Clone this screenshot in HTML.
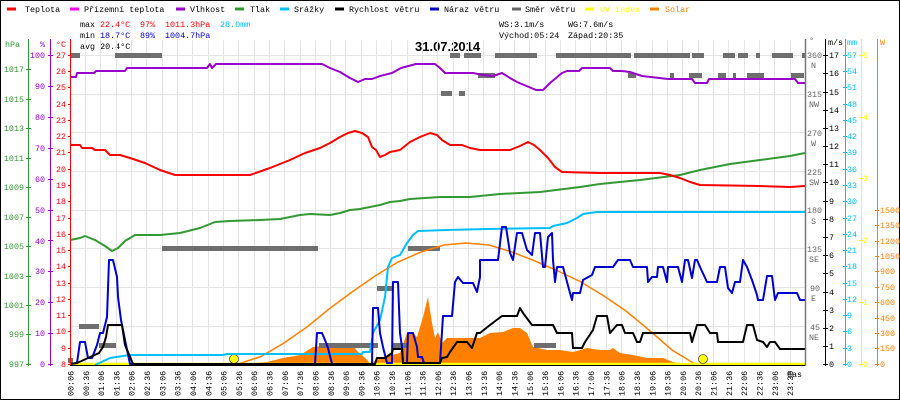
<!DOCTYPE html>
<html><head><meta charset="utf-8"><style>
html,body{margin:0;padding:0;background:#fff}
svg{display:block}
text{font-family:"Liberation Mono",monospace;font-size:8.4px}
</style></head><body>
<svg width="900" height="400" viewBox="0 0 900 400" xmlns="http://www.w3.org/2000/svg">
<rect x="0.5" y="0.5" width="899" height="399" fill="#fff" stroke="#000"/>
<!-- legend -->
<g stroke-width="3">
<line x1="7" y1="9" x2="16" y2="9" stroke="#f00"/>
<line x1="70" y1="9" x2="79" y2="9" stroke="#f0f"/>
<line x1="176" y1="9" x2="185" y2="9" stroke="#9900cc"/>
<line x1="235" y1="9" x2="244" y2="9" stroke="#339933"/>
<line x1="280" y1="9" x2="289" y2="9" stroke="#00bfff"/>
<line x1="335" y1="9" x2="344" y2="9" stroke="#000"/>
<line x1="430" y1="9" x2="439" y2="9" stroke="#0000cc"/>
<line x1="512" y1="9" x2="521" y2="9" stroke="#666"/>
<line x1="585" y1="9" x2="594" y2="9" stroke="#ff0"/>
<line x1="650" y1="9" x2="659" y2="9" stroke="#ff8000"/>
</g>
<g>
<text x="25" y="12">Teplota</text>
<text x="84" y="12">Přízemní teplota</text>
<text x="190" y="12">Vlhkost</text>
<text x="250" y="12">Tlak</text>
<text x="294" y="12">Srážky</text>
<text x="349" y="12">Rychlost větru</text>
<text x="444" y="12">Náraz větru</text>
<text x="525" y="12">Směr větru</text>
<text x="600" y="12" fill="#ff0">UV index</text>
<text x="665" y="12" fill="#ff8000">Solar</text>
</g>
<!-- stats -->
<text x="80" y="27">max</text><text x="100" y="27" fill="#f00">22.4°C</text><text x="140" y="27" fill="#f00">97%</text><text x="165" y="27" fill="#f00">1011.3hPa</text><text x="220" y="27" fill="#00bfff">28.0mm</text>
<text x="80" y="38">min</text><text x="100" y="38" fill="#0000cc">18.7°C</text><text x="140" y="38" fill="#0000cc">89%</text><text x="165" y="38" fill="#0000cc">1004.7hPa</text>
<text x="80" y="49">avg 20.4°C</text>
<text x="499" y="27">WS:3.1m/s</text><text x="568" y="27">WG:7.6m/s</text>
<text x="499" y="38">Východ:05:24</text><text x="568" y="38">Západ:20:35</text>
<text x="415" y="51" style="font-family:'Liberation Sans',sans-serif;font-size:13px;font-weight:bold">31.07.2014</text>
<!-- grid -->
<g stroke="#e4e4e4" stroke-width="1" id="grid"></g>
<g stroke="#e4e4e4" stroke-width="1">
<line x1="70" y1="55.5" x2="805" y2="55.5"/><line x1="70" y1="94.5" x2="805" y2="94.5"/><line x1="70" y1="132.5" x2="805" y2="132.5"/><line x1="70" y1="171.5" x2="805" y2="171.5"/><line x1="70" y1="210.5" x2="805" y2="210.5"/><line x1="70" y1="248.5" x2="805" y2="248.5"/><line x1="70" y1="287.5" x2="805" y2="287.5"/><line x1="70" y1="326.5" x2="805" y2="326.5"/>
<path d="M85.5 40V364M100.5 40V364M116.5 40V364M131.5 40V364M146.5 40V364M162.5 40V364M177.5 40V364M192.5 40V364M208.5 40V364M223.5 40V364M238.5 40V364M254.5 40V364M269.5 40V364M284.5 40V364M300.5 40V364M315.5 40V364M330.5 40V364M345.5 40V364M361.5 40V364M376.5 40V364M391.5 40V364M407.5 40V364M422.5 40V364M437.5 40V364M453.5 40V364M468.5 40V364M483.5 40V364M499.5 40V364M514.5 40V364M529.5 40V364M545.5 40V364M560.5 40V364M575.5 40V364M590.5 40V364M606.5 40V364M621.5 40V364M636.5 40V364M652.5 40V364M667.5 40V364M682.5 40V364M698.5 40V364M713.5 40V364M728.5 40V364M744.5 40V364M759.5 40V364M774.5 40V364M790.5 40V364"/>
</g>
<!-- solar area -->
<polygon fill="#ff8000" points="240,364 267,362 283,358 300,355 313,347 330,345 353,346 358,352 362,355 370,363 377,360 383,357 392,355 400,353 407,333 413,333 417,337 423,317 428,297 432,323 435,338 438,332 442,343 447,338 480,338 490,333 503,332 513,328 520,328 527,333 533,347 547,350 560,350 573,352 587,348 600,350 610,350 613,348 620,353 633,355 647,358 663,358 673,362 677,363 700,364"/>
<!-- direction bars -->
<g fill="#6e6e6e">
<rect x="71" y="53" width="9" height="5"/><rect x="115" y="53" width="47" height="5"/><rect x="450" y="53" width="10" height="5"/><rect x="464" y="53" width="17" height="5"/><rect x="495" y="53" width="42" height="5"/><rect x="556" y="53" width="75" height="5"/><rect x="634" y="53" width="56" height="5"/><rect x="692" y="53" width="12" height="5"/><rect x="723" y="53" width="12" height="5"/><rect x="738" y="53" width="10" height="5"/><rect x="756" y="53" width="4" height="5"/><rect x="772" y="53" width="21" height="5"/><rect x="802" y="53" width="4" height="5"/>
<rect x="478" y="73" width="17" height="5"/><rect x="628" y="73" width="8" height="5"/><rect x="670" y="73" width="4" height="5"/><rect x="689" y="73" width="13" height="5"/><rect x="718" y="73" width="8" height="5"/><rect x="733" y="73" width="3" height="5"/><rect x="747" y="73" width="17" height="5"/><rect x="791" y="73" width="13" height="5"/>
<rect x="441" y="91" width="11" height="5"/><rect x="459" y="91" width="6" height="5"/>
<rect x="79" y="324" width="20" height="5"/><rect x="99" y="343" width="17" height="5"/><rect x="68" y="358" width="5" height="5"/>
<rect x="162" y="246" width="156" height="5"/><rect x="319" y="343" width="59" height="5"/><rect x="377" y="286" width="16" height="5"/><rect x="392" y="343" width="16" height="5"/><rect x="408" y="246" width="32" height="5"/><rect x="534" y="343" width="22" height="5"/>
</g>
<!-- orange theoretical line -->
<polyline fill="none" stroke="#ff8000" stroke-width="1.5" points="238,364 261,356.5 284,343 307,327 329,309 352,292 375,276 398,262 421,252 444,245 466,243 489,245 512,252 535,261 558,271 581,282 604,296 626,311 649,330 672,350 695,364"/>
<!-- UV baseline -->
<line x1="70" y1="364" x2="805" y2="364" stroke="#ff0" stroke-width="2.5"/>
<circle cx="234" cy="359" r="4.5" fill="#ff0" stroke="#555" stroke-width="0.8"/>
<circle cx="703" cy="359" r="4.5" fill="#ff0" stroke="#555" stroke-width="0.8"/>
<g fill="none" stroke-width="2" stroke-linejoin="round">
<!-- rain -->
<polyline stroke="#00bfff" points="95,365 110,358 130,355 223,355 227,354 362,354 363,352 370,352 373,333 380,320 385,297 388,267 392,258 400,255 407,243 413,235 418,231 447,230 487,229 550,228 553,226 567,223 577,218 583,214 597,212 805,212"/>
<!-- pressure -->
<polyline stroke="#339933" points="70,240 80,238 85,236 95,240 105,246 112,251 118,248 125,241 135,235 160,235 180,233 200,228 215,222 230,221 260,220 280,219 300,215 310,214 330,215 340,213 350,210 360,209 370,207 380,205 390,202 400,201 410,199 440,197 470,197 500,194 540,192 580,187 600,184 640,180 680,175 700,170 730,164 760,160 790,156 805,153"/>
<!-- humidity -->
<polyline stroke="#9900cc" points="70,77 76,77 77,73 94,73 96,71 125,71 127,68 207,68 210,64 212,68 216,64 322,64 330,68 340,72 350,78 358,82 365,79 372,79 380,76 392,73 401,68 416,64 435,64 440,68 445,73 473,73 483,75 493,76 502,73 510,78 517,82 529,87 536,90 543,90 550,83 562,73 567,71 579,71 582,68 610,68 613,71 622,71 630,72 642,76 668,79 692,79 695,83 707,83 709,79 795,79 798,83 805,83"/>
<!-- temperature -->
<polyline stroke="#f00" points="70,145 80,145 82,148 92,148 95,150 105,150 107,152 110,155 120,155 130,158 145,163 160,170 175,175 250,175 270,168 290,160 305,153 320,148 330,143 340,137 348,133 355,131 362,133 368,137 372,147 376,150 380,157 385,155 390,152 400,150 410,142 420,137 430,133 437,135 442,140 450,145 462,145 470,148 480,150 510,150 520,146 528,142 534,145 540,150 548,158 555,167 562,172 600,173 660,173 670,175 680,178 690,182 700,185 760,186 790,187 805,186"/>
<!-- gust -->
<polyline stroke="#0000cc" points="70,364 77,363 80,342 85,342 88,358 92,358 97,345 100,333 103,333 107,317 109,260 113,260 117,277 118,297 121,320 125,340 130,364 315,364 317,333 322,333 325,340 328,348 332,364 372,364 373,308 378,308 380,333 383,347 387,363 392,363 393,282 398,282 400,333 402,347 403,363 407,363 408,333 413,333 417,347 418,357 422,357 424,363 440,363 443,316 452,316 455,282 458,277 463,283 473,283 477,292 480,277 480,260 498,260 502,227 506,227 510,253 513,260 517,233 522,233 527,250 532,255 535,233 540,233 543,267 545,267 548,237 552,233 553,260 555,282 557,267 563,267 570,293 572,300 573,293 580,293 583,280 592,275 595,267 613,267 618,260 630,260 633,267 647,267 648,282 652,277 657,277 658,267 663,267 667,282 668,267 678,267 682,282 685,260 688,260 692,278 695,260 697,260 700,267 707,282 717,282 720,267 725,267 728,288 732,293 735,282 740,282 743,260 747,267 752,280 757,295 758,300 763,300 767,276 772,276 775,300 778,293 797,293 800,300 805,300"/>
<!-- wind speed -->
<polyline stroke="#000" points="70,364 77,363 99,353 103,347 106,337 108,325 122,325 125,345 133,364 375,364 377,358 385,358 392,353 393,349 402,349 403,363 440,363 442,358 447,357 450,352 457,342 467,342 472,348 477,333 480,333 490,325 502,316 517,316 520,308 523,313 532,325 553,325 557,333 572,333 573,348 582,348 585,342 593,330 597,316 607,316 610,333 617,325 622,325 625,333 633,333 637,342 640,342 643,333 690,333 692,342 697,325 705,325 710,333 717,333 718,342 743,342 747,325 753,325 757,340 763,342 767,347 770,342 775,342 780,349 805,349"/>
</g>
<!-- left axes -->
<g fill="#339933" text-anchor="end">
<line x1="28.5" y1="39" x2="28.5" y2="366" stroke="#339933"/>
<text x="5" y="47" text-anchor="start">hPa</text>
<text x="24" y="72">1017</text><text x="24" y="102">1015</text><text x="24" y="131">1013</text><text x="24" y="161">1011</text><text x="24" y="190">1009</text><text x="24" y="220">1007</text><text x="24" y="249">1005</text><text x="24" y="279">1003</text><text x="24" y="308">1001</text><text x="24" y="337">999</text><text x="24" y="367">997</text>
<path stroke="#339933" d="M26 69.5h5M26 99.5h5M26 128.5h5M26 158.5h5M26 187.5h5M26 217.5h5M26 246.5h5M26 276.5h5M26 305.5h5M26 334.5h5M26 364.5h5"/>
</g>
<g fill="#9900cc" text-anchor="end">
<line x1="50.5" y1="39" x2="50.5" y2="366" stroke="#9900cc"/>
<text x="45" y="47">%</text>
<text x="45" y="58">100</text><text x="45" y="89">90</text><text x="45" y="120">80</text><text x="45" y="151">70</text><text x="45" y="182">60</text><text x="45" y="213">50</text><text x="45" y="244">40</text><text x="45" y="274">30</text><text x="45" y="305">20</text><text x="45" y="336">10</text><text x="45" y="367">0</text>
<path stroke="#9900cc" d="M48 55.5h5M48 86.5h5M48 117.5h5M48 148.5h5M48 179.5h5M48 210.5h5M48 240.5h5M48 271.5h5M48 302.5h5M48 333.5h5M48 364.5h5"/>
</g>
<g fill="#f00" text-anchor="end">
<line x1="70.5" y1="39" x2="70.5" y2="366" stroke="#f00"/>
<text x="66" y="47">°C</text>
<text x="66" y="58">27</text><text x="66" y="74">26</text><text x="66" y="90">25</text><text x="66" y="107">24</text><text x="66" y="123">23</text><text x="66" y="139">22</text><text x="66" y="155">21</text><text x="66" y="172">20</text><text x="66" y="188">19</text><text x="66" y="204">18</text><text x="66" y="221">17</text><text x="66" y="237">16</text><text x="66" y="253">15</text><text x="66" y="269">14</text><text x="66" y="286">13</text><text x="66" y="302">12</text><text x="66" y="318">11</text><text x="66" y="334">10</text><text x="66" y="351">9</text><text x="66" y="367">8</text>
<path stroke="#f00" d="M68 55.5h3M68 71.5h3M68 87.5h3M68 104.5h3M68 120.5h3M68 136.5h3M68 152.5h3M68 169.5h3M68 185.5h3M68 201.5h3M68 218.5h3M68 234.5h3M68 250.5h3M68 266.5h3M68 283.5h3M68 299.5h3M68 315.5h3M68 331.5h3M68 348.5h3M68 364.5h3"/>
</g>
<!-- right axes -->
<g fill="#666">
<line x1="805.5" y1="39" x2="805.5" y2="366" stroke="#777" stroke-width="1.5"/>
<text x="809" y="43">°</text>
<text x="807" y="58">360</text><text x="811" y="68">N</text>
<text x="807" y="97">315</text><text x="809" y="107">NW</text>
<text x="807" y="136">270</text><text x="811" y="146">W</text>
<text x="807" y="175">225</text><text x="809" y="185">SW</text>
<text x="807" y="213">180</text><text x="811" y="224">S</text>
<text x="807" y="252">135</text><text x="809" y="262">SE</text>
<text x="810" y="291">90</text><text x="811" y="301">E</text>
<text x="810" y="330">45</text><text x="809" y="340">NE</text>
</g>
<g fill="#000">
<line x1="825.5" y1="39" x2="825.5" y2="366" stroke="#000"/>
<text x="828" y="45">m/s</text>
<text x="829" y="58">17</text><text x="829" y="76">16</text><text x="829" y="95">15</text><text x="829" y="113">14</text><text x="829" y="131">13</text><text x="829" y="149">12</text><text x="829" y="167">11</text><text x="829" y="185">10</text><text x="829" y="204">9</text><text x="829" y="222">8</text><text x="829" y="240">7</text><text x="829" y="258">6</text><text x="829" y="276">5</text><text x="829" y="295">4</text><text x="829" y="313">3</text><text x="829" y="331">2</text><text x="829" y="349">1</text><text x="829" y="367">0</text>
<path stroke="#000" d="M823 55.5h5M823 73.5h5M823 92.5h5M823 110.5h5M823 128.5h5M823 146.5h5M823 164.5h5M823 182.5h5M823 201.5h5M823 219.5h5M823 237.5h5M823 255.5h5M823 273.5h5M823 292.5h5M823 310.5h5M823 328.5h5M823 346.5h5M823 364.5h5"/>
</g>
<g fill="#00bfff">
<line x1="845.5" y1="39" x2="845.5" y2="366" stroke="#00bfff"/>
<text x="847" y="45">mm</text>
<text x="847" y="58">57</text><text x="847" y="74">54</text><text x="847" y="90">51</text><text x="847" y="107">48</text><text x="847" y="123">45</text><text x="847" y="139">42</text><text x="847" y="155">39</text><text x="847" y="172">36</text><text x="847" y="188">33</text><text x="847" y="204">30</text><text x="847" y="221">27</text><text x="847" y="237">24</text><text x="847" y="253">21</text><text x="847" y="269">18</text><text x="847" y="286">15</text><text x="847" y="302">12</text><text x="847" y="318">9</text><text x="847" y="334">6</text><text x="847" y="351">3</text><text x="847" y="367">0</text>
<path stroke="#00bfff" d="M843 55.5h4M843 71.5h4M843 87.5h4M843 104.5h4M843 120.5h4M843 136.5h4M843 152.5h4M843 169.5h4M843 185.5h4M843 201.5h4M843 218.5h4M843 234.5h4M843 250.5h4M843 266.5h4M843 283.5h4M843 299.5h4M843 315.5h4M843 331.5h4M843 348.5h4M843 364.5h4"/>
</g>
<g fill="#ff0">
<line x1="861.5" y1="39" x2="861.5" y2="366" stroke="#ff0"/>
<text x="863" y="58">5</text><text x="863" y="120">4</text><text x="863" y="181">3</text><text x="863" y="243">2</text><text x="863" y="305">1</text><text x="863" y="367">0</text>
<path stroke="#ff0" d="M859 55.5h4M859 117.5h4M859 178.5h4M859 240.5h4M859 302.5h4M859 364.5h4"/>
</g>
<g fill="#ff8000">
<line x1="877.5" y1="39" x2="877.5" y2="366" stroke="#ff8000"/>
<text x="880" y="45">W</text>
<text x="880" y="213">1500</text><text x="880" y="228">1350</text><text x="880" y="244">1200</text><text x="880" y="259">1050</text><text x="880" y="274">900</text><text x="880" y="290">750</text><text x="880" y="305">600</text><text x="880" y="321">450</text><text x="880" y="336">300</text><text x="880" y="351">150</text><text x="880" y="367">0</text>
<path stroke="#ff8000" d="M875 210.5h4M875 225.5h4M875 241.5h4M875 256.5h4M875 271.5h4M875 287.5h4M875 302.5h4M875 318.5h4M875 333.5h4M875 348.5h4M875 364.5h4"/>
</g>
<!-- bottom axis -->
<line x1="70" y1="365.5" x2="805" y2="365.5" stroke="#000"/>
<text x="787" y="377">čas</text>
<g fill="#000" style="font-size:8.2px">
<text transform="translate(73.5,396) rotate(-90)">00:06</text><text transform="translate(88.8,396) rotate(-90)">00:36</text><text transform="translate(104.1,396) rotate(-90)">01:06</text><text transform="translate(119.4,396) rotate(-90)">01:36</text><text transform="translate(134.7,396) rotate(-90)">02:06</text><text transform="translate(150,396) rotate(-90)">02:36</text><text transform="translate(165.4,396) rotate(-90)">03:06</text><text transform="translate(180.7,396) rotate(-90)">03:36</text><text transform="translate(196,396) rotate(-90)">04:06</text><text transform="translate(211.3,396) rotate(-90)">04:36</text><text transform="translate(226.6,396) rotate(-90)">05:06</text><text transform="translate(241.9,396) rotate(-90)">05:36</text><text transform="translate(257.2,396) rotate(-90)">06:06</text><text transform="translate(272.5,396) rotate(-90)">06:36</text><text transform="translate(287.8,396) rotate(-90)">07:06</text><text transform="translate(303.1,396) rotate(-90)">07:36</text><text transform="translate(318.5,396) rotate(-90)">08:06</text><text transform="translate(333.8,396) rotate(-90)">08:36</text><text transform="translate(349.1,396) rotate(-90)">09:06</text><text transform="translate(364.4,396) rotate(-90)">09:36</text><text transform="translate(379.7,396) rotate(-90)">10:06</text><text transform="translate(395,396) rotate(-90)">10:36</text><text transform="translate(410.3,396) rotate(-90)">11:06</text><text transform="translate(425.6,396) rotate(-90)">11:36</text><text transform="translate(440.9,396) rotate(-90)">12:06</text><text transform="translate(456.2,396) rotate(-90)">12:36</text><text transform="translate(471.6,396) rotate(-90)">13:06</text><text transform="translate(486.9,396) rotate(-90)">13:36</text><text transform="translate(502.2,396) rotate(-90)">14:06</text><text transform="translate(517.5,396) rotate(-90)">14:36</text><text transform="translate(532.8,396) rotate(-90)">15:06</text><text transform="translate(548.1,396) rotate(-90)">15:36</text><text transform="translate(563.4,396) rotate(-90)">16:06</text><text transform="translate(578.7,396) rotate(-90)">16:36</text><text transform="translate(594,396) rotate(-90)">17:06</text><text transform="translate(609.3,396) rotate(-90)">17:36</text><text transform="translate(624.7,396) rotate(-90)">18:06</text><text transform="translate(640,396) rotate(-90)">18:36</text><text transform="translate(655.3,396) rotate(-90)">19:06</text><text transform="translate(670.6,396) rotate(-90)">19:36</text><text transform="translate(685.9,396) rotate(-90)">20:06</text><text transform="translate(701.2,396) rotate(-90)">20:36</text><text transform="translate(716.5,396) rotate(-90)">21:06</text><text transform="translate(731.8,396) rotate(-90)">21:36</text><text transform="translate(747.1,396) rotate(-90)">22:06</text><text transform="translate(762.4,396) rotate(-90)">22:36</text><text transform="translate(777.8,396) rotate(-90)">23:06</text><text transform="translate(793.1,396) rotate(-90)">23:36</text>
</g>
</svg>
</body></html>
